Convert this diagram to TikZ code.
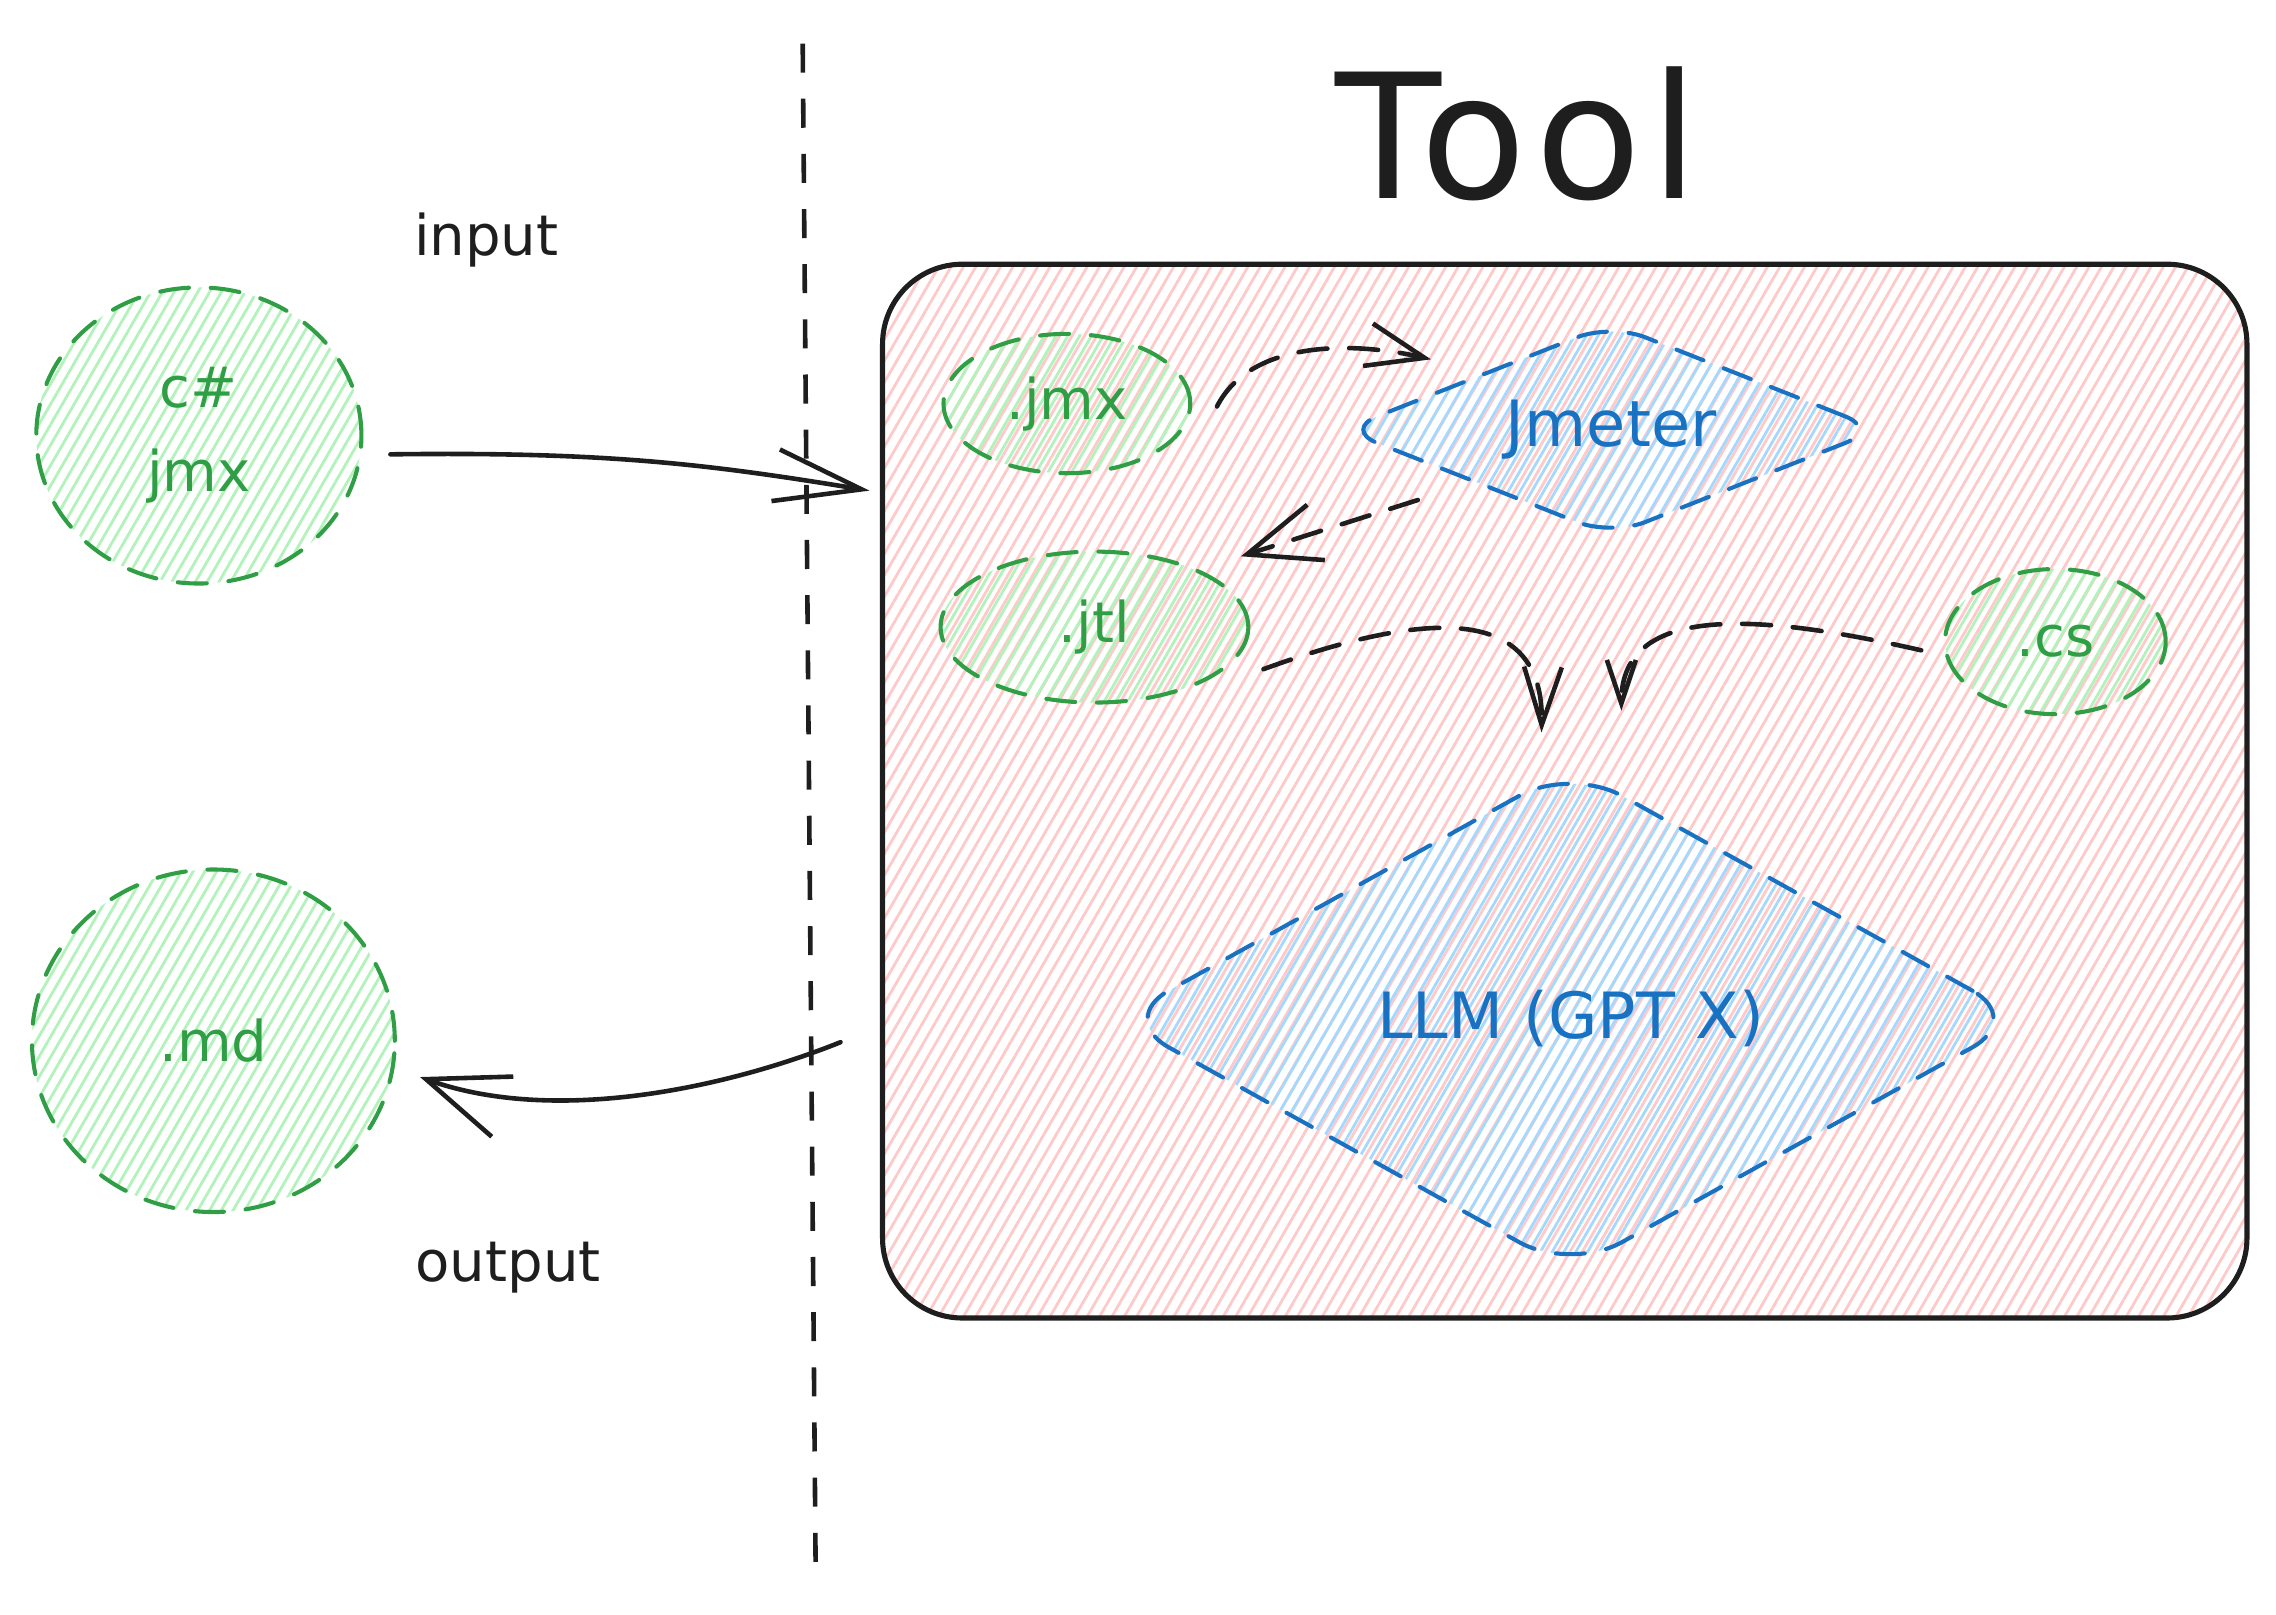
\documentclass[tikz,border=0pt]{standalone}
\usepackage{fontspec}
\setmainfont{DejaVu Sans}
\usetikzlibrary{shapes.geometric,arrows.meta,patterns.meta,calc}
\definecolor{ink}{HTML}{1E1E1E}
\definecolor{gstroke}{HTML}{2F9E44}
\definecolor{ghatch}{HTML}{B2F2BB}
\definecolor{bstroke}{HTML}{1971C2}
\definecolor{bhatch}{HTML}{A5D8FF}
\definecolor{phatch}{HTML}{FFC9C9}
\tikzset{
  gshape/.style={ellipse, draw=gstroke, line width=0.8pt, line cap=round,
    dash pattern=on 2mm off 1.5mm,
    pattern={Lines[angle=60,distance=2pt,line width=0.55pt]}, pattern color=ghatch,
    text=gstroke, inner sep=0pt, font=\fontsize{11}{13}\selectfont},
  bshape/.style={diamond, draw=bstroke, line width=0.8pt, line cap=round,
    dash pattern=on 2mm off 1.5mm,
    pattern={Lines[angle=60,distance=2pt,line width=0.55pt]}, pattern color=bhatch,
    text=bstroke, inner sep=0pt, font=\fontsize{12.5}{15}\selectfont},
  toolbox/.style={draw=ink, line width=1pt, rounded corners=5.5mm,
    pattern={Lines[angle=60,distance=2.1pt,line width=0.55pt]}, pattern color=phatch},
  plainlabel/.style={text=ink, font=\fontsize{11}{13}\selectfont, inner sep=0pt},
  solidarrow/.style={draw=ink, line width=0.9pt, line cap=round, line join=round},
  dasharrow/.style={draw=ink, line width=0.9pt, line cap=round, line join=round,
    dash pattern=on 2mm off 1.5mm},
}
\begin{document}
\begin{tikzpicture}[x=0.1mm,y=-0.1mm]
\useasboundingbox (0,0) rectangle (1568,1112);

% divider
\coordinate (divTop) at (553,30);
\coordinate (divBot) at (562,1090);
\draw[draw=ink, line width=0.9pt, dash pattern=on 2mm off 1.8mm] (divTop) -- (divBot);

% title and side labels
\node[text=ink, font=\fontsize{34}{38}\selectfont\addfontfeature{LetterSpace=5}, inner sep=0pt] (title) at (1045,92) {Tool};
\node[plainlabel] (input) at (335,165) {input};
\node[plainlabel] (output) at (350,873) {output};

% tool box
\node[toolbox, minimum width=94mm, minimum height=72.6mm] (box) at (1078,545) {};

% outer shapes
\node[gshape, minimum width=22.4mm, minimum height=20.4mm, align=center] (cjmx) at (137,300) {c\#\\[1.2mm]jmx};
\node[gshape, minimum width=25mm, minimum height=23.6mm] (md) at (147,717) {.md};

% inner shapes
\node[gshape, minimum width=17mm, minimum height=9.6mm] (jmx) at (735,278) {.jmx};
\node[gshape, minimum width=21.2mm, minimum height=10.4mm] (jtl) at (754,432) {.jtl};
\node[gshape, minimum width=15.2mm, minimum height=10mm] (cs) at (1416,442) {.cs};
\node[bshape, shape aspect=2.5, rounded corners=2.5mm, minimum width=37mm, minimum height=14.7mm] (jmeter) at (1110,296) {Jmeter};
\node[bshape, shape aspect=1.8, rounded corners=4mm, minimum width=62.5mm, minimum height=34.8mm] (llm) at (1082,702) {LLM (GPT X)};

% connectors
\draw[solidarrow, -{Straight Barb[length=6mm,width=3.6mm]}]
  ($(cjmx.east)+(19,13)$) .. controls +(150,-2) and +(-110,-18) .. ($(box.west)+(-8,-207)$);
\draw[solidarrow, -{Straight Barb[length=5.6mm,width=4.4mm]}]
  ($(box.west)+(-28,173)$) .. controls +(-80,32) and +(92,33) .. ($(md.east)+(16,25)$);
\draw[dasharrow, -{Straight Barb[length=4mm,width=3mm]}]
  ($(jmx.east)+(17,2)$) .. controls +(23,-45) and +(-56,-13) .. ($(jmeter.north west)+(-31,-11)$);
\draw[dasharrow, -{Straight Barb[length=5mm,width=4mm]}]
  ($(jmeter.south west)+(-40,11)$) -- ($(jtl.north east)+(25,-11)$);
\draw[dasharrow, -{Straight Barb[length=4mm,width=2.6mm]}]
  ($(jtl.east)+(9,29)$) .. controls +(110,-40) and +(2,-90) .. ($(llm.north)+(-20,-22)$);
\draw[dasharrow, -{Straight Barb[length=3mm,width=2mm]}]
  ($(cs.west)+(-15,6)$) .. controls +(-110,-25) and +(0,-75) .. ($(llm.north)+(35,-37)$);
\end{tikzpicture}
\end{document}
